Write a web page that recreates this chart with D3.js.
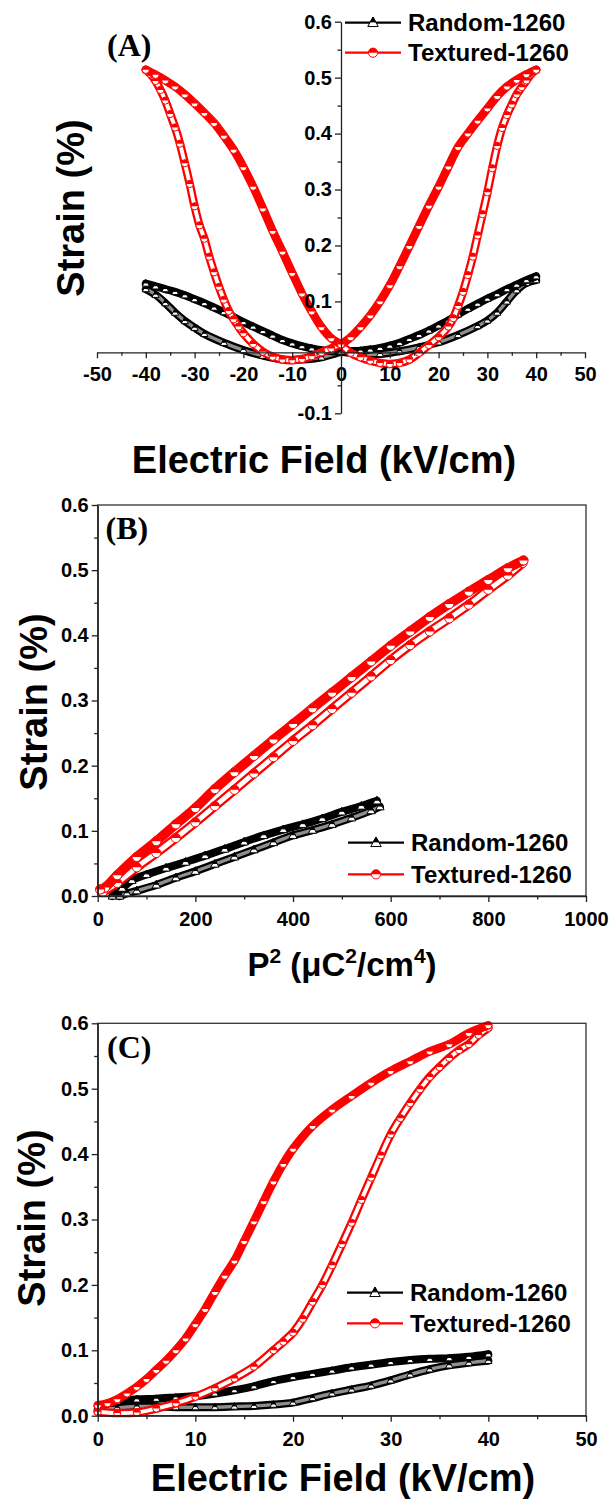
<!DOCTYPE html>
<html>
<head>
<meta charset="utf-8">
<script src="https://cdn.jsdelivr.net/npm/d3@7"></script>
<style>
  body { margin: 0; background: #fff; }
  text { font-family: "Liberation Sans", Arial, sans-serif; font-weight: bold; fill: #000; }
  .plab { font-family: "Liberation Serif", "Times New Roman", serif; }
</style>
</head>
<body>
<div id="chart"></div>
<script>
// tick values
var fieldTicksA = [-50, -40, -30, -20, -10, 0, 10, 20, 30, 40, 50];
var fieldMinorA = [-45, -35, -25, -15, -5, 5, 15, 25, 35, 45];
var strainTicksA = [-0.1, 0.1, 0.2, 0.3, 0.4, 0.5, 0.6];
var strainMinorA = [-0.05, 0.05, 0.15, 0.25, 0.35, 0.45, 0.55];
var strainTicks = [0, 0.1, 0.2, 0.3, 0.4, 0.5, 0.6];
var strainMinor = [0.05, 0.15, 0.25, 0.35, 0.45, 0.55];
var p2Ticks = [0, 200, 400, 600, 800, 1000];
var p2Minor = [100, 300, 500, 700, 900];
var fieldTicksC = [0, 10, 20, 30, 40, 50];
var fieldMinorC = [5, 15, 25, 35, 45];
var seriesNames = ["Random-1260", "Textured-1260"];

// (A) bipolar strain, branches in measuring order: [E kV/cm, strain %]
var randomA = [
  [[0,0.010],[4,0.006],[8,0.006],[12,0.011],[16,0.018],[20,0.027],[24,0.040],[28,0.056],[30,0.066],[32,0.080],[34,0.100],[36,0.120],[38,0.133],[40,0.138]],
  [[40,0.145],[38,0.138],[36,0.130],[34,0.122],[32,0.113],[30,0.105],[28,0.096],[26,0.087],[24,0.077],[22,0.066],[20,0.057],[18,0.048],[16,0.040],[14,0.033],[12,0.026],[10,0.021],[8,0.017],[6,0.014],[4,0.012],[2,0.011],[0,0.010]],
  [[0,0.010],[-4,0.000],[-8,-0.004],[-12,-0.004],[-16,0.003],[-20,0.013],[-24,0.026],[-28,0.042],[-30,0.053],[-32,0.065],[-34,0.080],[-36,0.097],[-38,0.112],[-40,0.122]],
  [[-40,0.132],[-38,0.127],[-36,0.122],[-34,0.117],[-32,0.111],[-30,0.104],[-28,0.097],[-26,0.089],[-24,0.081],[-22,0.072],[-20,0.063],[-18,0.055],[-16,0.047],[-14,0.039],[-12,0.031],[-10,0.025],[-8,0.020],[-6,0.016],[-4,0.013],[-2,0.011],[0,0.010]]
];
var texturedA = [
  [[0,0.023],[2,0.008],[4,0.000],[6,-0.006],[8,-0.010],[10,-0.012],[12,-0.010],[14,-0.004],[16,0.008],[18,0.022],[20,0.036],[22,0.055],[23,0.070],[24,0.092],[25,0.117],[26,0.147],[27,0.180],[28,0.218],[29,0.256],[30,0.295],[31,0.338],[32,0.378],[33,0.410],[34,0.433],[35,0.452],[36,0.470],[37,0.483],[38,0.495],[39,0.507],[40,0.514]],
  [[40,0.514],[38,0.506],[36,0.496],[34,0.484],[32,0.467],[30,0.445],[28,0.423],[26,0.400],[24,0.376],[22,0.341],[20,0.305],[18,0.271],[16,0.235],[14,0.199],[12,0.163],[10,0.129],[8,0.100],[6,0.075],[4,0.054],[2,0.036],[0,0.023]],
  [[0,0.023],[-2,0.016],[-4,0.009],[-6,0.002],[-8,-0.003],[-10,-0.005],[-12,-0.004],[-14,0.001],[-16,0.010],[-18,0.024],[-20,0.043],[-21,0.055],[-22,0.068],[-23,0.083],[-24,0.103],[-25,0.126],[-26,0.152],[-27,0.180],[-28,0.212],[-29,0.236],[-30,0.270],[-31,0.310],[-32,0.347],[-33,0.382],[-34,0.411],[-35,0.435],[-36,0.459],[-37,0.478],[-38,0.494],[-39,0.506],[-40,0.514]],
  [[-40,0.514],[-38,0.505],[-36,0.495],[-34,0.484],[-32,0.470],[-30,0.454],[-28,0.437],[-26,0.419],[-24,0.396],[-22,0.371],[-20,0.340],[-18,0.305],[-16,0.266],[-14,0.226],[-12,0.189],[-10,0.151],[-8,0.114],[-6,0.082],[-4,0.054],[-2,0.034],[0,0.023]]
];

// (B) strain vs P^2 (uC^2/cm^4)
var randomB = [
  [[45,0.000],[60,0.004],[80,0.008],[120,0.017],[160,0.028],[200,0.038],[240,0.049],[280,0.060],[320,0.071],[360,0.082],[400,0.093],[440,0.101],[480,0.110],[520,0.120],[560,0.131],[578,0.137]],
  [[572,0.146],[540,0.138],[500,0.129],[460,0.119],[420,0.110],[380,0.102],[340,0.093],[300,0.083],[260,0.072],[220,0.062],[180,0.052],[140,0.043],[100,0.033],[70,0.024],[50,0.012],[30,0.000]]
];
var texturedB = [
  [[10,0.006],[40,0.020],[80,0.044],[120,0.066],[160,0.089],[200,0.113],[240,0.138],[280,0.163],[320,0.188],[360,0.213],[400,0.238],[440,0.262],[480,0.287],[520,0.312],[560,0.337],[600,0.362],[640,0.385],[680,0.406],[720,0.426],[760,0.447],[800,0.470],[840,0.492],[870,0.511]],
  [[872,0.515],[840,0.503],[800,0.485],[760,0.467],[720,0.448],[680,0.428],[640,0.406],[600,0.384],[560,0.360],[520,0.336],[480,0.312],[440,0.288],[400,0.264],[360,0.240],[320,0.215],[280,0.190],[240,0.164],[200,0.135],[160,0.110],[120,0.084],[80,0.060],[40,0.032],[15,0.013],[5,0.010]]
];

// (C) unipolar strain
var randomC = [
  [[0,0.008],[2,0.012],[4,0.014],[6,0.014],[8,0.013],[10,0.013],[12,0.013],[14,0.014],[16,0.015],[18,0.017],[20,0.020],[22,0.027],[24,0.034],[26,0.040],[28,0.046],[30,0.054],[32,0.063],[34,0.071],[36,0.077],[38,0.081],[40,0.084]],
  [[40,0.094],[38,0.090],[36,0.088],[34,0.087],[32,0.085],[30,0.082],[28,0.078],[26,0.074],[24,0.069],[22,0.064],[20,0.059],[18,0.053],[16,0.045],[14,0.039],[12,0.034],[10,0.030],[8,0.028],[6,0.026],[4,0.025],[2,0.022],[0,0.014]]
];
var texturedC = [
  [[0,0.006],[2,0.004],[4,0.005],[6,0.011],[8,0.019],[10,0.029],[12,0.042],[14,0.057],[16,0.075],[18,0.100],[19,0.113],[20,0.127],[21,0.148],[22,0.174],[23,0.200],[24,0.230],[25,0.262],[26,0.295],[27,0.330],[28,0.364],[29,0.398],[30,0.430],[31,0.455],[32,0.478],[33,0.499],[34,0.518],[35,0.533],[36,0.547],[37,0.559],[38,0.568],[39,0.582],[40,0.593]],
  [[40,0.597],[38,0.585],[36,0.568],[34,0.557],[32,0.542],[30,0.527],[28,0.509],[26,0.489],[24,0.468],[22,0.443],[20,0.408],[19,0.385],[18,0.358],[17,0.328],[16,0.297],[15,0.267],[14,0.237],[13,0.214],[12,0.189],[11,0.163],[10,0.140],[9,0.118],[8,0.100],[7,0.084],[6,0.070],[5,0.056],[4,0.044],[3,0.034],[2,0.025],[1,0.019],[0,0.016]]
];

var w = 610, h = 1501;

function drawMarker(sel, kind, r, color) {
  if (kind == "circle") {
    sel.append("circle").attr("r", r).attr("fill", "#fff")
      .attr("stroke", color).attr("stroke-width", 1);
    sel.append("path")
      .attr("d", "M" + (-r) + ",0A" + r + "," + r + " 0 0 1 " + r + ",0Z")
      .attr("fill", color);
  } else {
    var hw = r * 0.95;
    sel.append("path")
      .attr("d", "M0," + (-r) + "L" + hw + "," + (r * 0.7) + "L" + (-hw) + "," + (r * 0.7) + "Z")
      .attr("fill", "#fff").attr("stroke", color).attr("stroke-width", 1);
    var cut = -r + 0.85 * r;
    var cw = hw * 0.85 / 1.7;
    sel.append("path")
      .attr("d", "M0," + (-r) + "L" + cw + "," + cut + "L" + (-cw) + "," + cut + "Z")
      .attr("fill", color).attr("stroke", color).attr("stroke-width", 1);
  }
}

function drawSeries(g, x, y, branches, color, kind, r, bandW, innerColor) {
  var line = d3.line()
    .x(function(d) { return x(d[0]); })
    .y(function(d) { return y(d[1]); })
    .curve(d3.curveCatmullRom);
  branches.forEach(function(b) {
    var rising = b[b.length - 1][1] > b[0][1];
    g.append("path").datum(b)
      .attr("fill", "none").attr("stroke", color)
      .attr("stroke-width", bandW).attr("stroke-linejoin", "round")
      .attr("stroke-linecap", "round").attr("d", line);
    if (rising) {
      g.append("path").datum(b)
        .attr("fill", "none").attr("stroke", innerColor)
        .attr("stroke-width", bandW - 4.6).attr("stroke-linecap", "round")
        .attr("d", line);
    }
    g.selectAll(null).data(b).enter().append("g")
      .attr("transform", function(d) { return "translate(" + x(d[0]) + "," + y(d[1]) + ")"; })
      .each(function() { drawMarker(d3.select(this), kind, r, color); });
  });
}

function styleAxis(ax, size) {
  ax.attr("font-size", size).attr("font-family", null);
  ax.selectAll("line").attr("stroke", "#222").attr("stroke-width", 1.3);
  ax.selectAll(".domain").attr("stroke", "#222").attr("stroke-width", 1.3);
}

function legend(svg, x0, y0, gap) {
  var items = [
    { name: seriesNames[0], color: "#000", kind: "tri" },
    { name: seriesNames[1], color: "#ff0000", kind: "circle" }
  ];
  items.forEach(function(it, i) {
    var yy = y0 + i * gap;
    svg.append("line").attr("x1", x0).attr("x2", x0 + 56)
      .attr("y1", yy).attr("y2", yy)
      .attr("stroke", it.color).attr("stroke-width", 2.2);
    var m = svg.append("g").attr("transform", "translate(" + (x0 + 28) + "," + yy + ")");
    drawMarker(m, it.kind, it.kind == "tri" ? 5.5 : 4.6, it.color);
    svg.append("text").attr("x", x0 + 63).attr("y", yy + 8.6)
      .attr("font-size", 24).text(it.name);
  });
}

function strainTitle(svg, bx, cy) {
  svg.append("text")
    .attr("transform", "translate(" + bx + "," + cy + ") rotate(-90)")
    .attr("text-anchor", "middle").attr("font-size", 38)
    .text("Strain (%)");
}

function fmt1(d) { return d.toFixed(1); }

function init() {
  var svg = d3.select("#chart").append("svg")
    .attr("width", w).attr("height", h);

  // ---------- (A) ----------
  var xA = d3.scaleLinear().domain([-50, 50]).range([97, 585]);
  var yA = d3.scaleLinear().domain([-0.1, 0.6]).range([413.3, 21.7]);
  var axisYpos = yA(0.009);

  var gA = svg.append("g");
  drawSeries(gA, xA, yA, randomA, "#000", "tri", 3.8, 8, "#8e8e8e");
  drawSeries(gA, xA, yA, texturedA, "#ff0000", "circle", 3.6, 8.5, "#fff");

  var axA = svg.append("g").attr("transform", "translate(0," + axisYpos + ")")
    .call(d3.axisBottom(xA).tickValues(fieldTicksA).tickSize(6).tickSizeOuter(0)
      .tickPadding(8).tickFormat(function(d) { return String(d); }));
  styleAxis(axA, 20);
  var axAm = svg.append("g").attr("transform", "translate(0," + axisYpos + ")")
    .call(d3.axisBottom(xA).tickValues(fieldMinorA).tickSize(3.5).tickFormat(""));
  styleAxis(axAm, 20);
  axAm.select(".domain").remove();

  var ayA = svg.append("g").attr("transform", "translate(" + xA(0) + ",0)")
    .call(d3.axisLeft(yA).tickValues(strainTicksA).tickSize(6).tickSizeOuter(0)
      .tickPadding(3).tickFormat(fmt1));
  styleAxis(ayA, 20);
  var ayAm = svg.append("g").attr("transform", "translate(" + xA(0) + ",0)")
    .call(d3.axisLeft(yA).tickValues(strainMinorA).tickSize(3.5).tickFormat(""));
  styleAxis(ayAm, 20);
  ayAm.select(".domain").remove();

  svg.append("text").attr("x", 324).attr("y", 473).attr("text-anchor", "middle")
    .attr("font-size", 38).text("Electric Field (kV/cm)");
  strainTitle(svg, 84, 208);
  svg.append("text").attr("class", "plab").attr("x", 107).attr("y", 56)
    .attr("font-size", 32).text("(A)");
  legend(svg, 345, 22.7, 30);

  // ---------- (B) ----------
  var xB = d3.scaleLinear().domain([0, 1000]).range([97.7, 586]);
  var yB = d3.scaleLinear().domain([0, 0.6]).range([896, 505]);
  var gB = svg.append("g");
  drawSeries(gB, xB, yB, randomB, "#000", "tri", 4.4, 8, "#8e8e8e");
  drawSeries(gB, xB, yB, texturedB, "#ff0000", "circle", 4.6, 9.5, "#fff");

  svg.append("rect").attr("x", 97.7).attr("y", 505).attr("width", 586 - 97.7)
    .attr("height", 896 - 505).attr("fill", "none").attr("stroke", "#333").attr("stroke-width", 1.3);
  var axB = svg.append("g").attr("transform", "translate(0,896)")
    .call(d3.axisBottom(xB).tickValues(p2Ticks).tickSize(6).tickSizeOuter(0).tickPadding(10)
      .tickFormat(function(d) { return String(d); }));
  styleAxis(axB, 20);
  var axBm = svg.append("g").attr("transform", "translate(0,896)")
    .call(d3.axisBottom(xB).tickValues(p2Minor).tickSize(3.5).tickFormat(""));
  styleAxis(axBm, 20);
  axBm.select(".domain").remove();
  var ayB = svg.append("g").attr("transform", "translate(97.7,0)")
    .call(d3.axisLeft(yB).tickValues(strainTicks).tickSize(6).tickSizeOuter(0).tickPadding(3).tickFormat(fmt1));
  styleAxis(ayB, 20);
  var ayBm = svg.append("g").attr("transform", "translate(97.7,0)")
    .call(d3.axisLeft(yB).tickValues(strainMinor).tickSize(3.5).tickFormat(""));
  styleAxis(ayBm, 20);
  ayBm.select(".domain").remove();

  var tB = svg.append("text").attr("x", 342).attr("y", 976).attr("text-anchor", "middle")
    .attr("font-size", 33);
  tB.append("tspan").text("P");
  tB.append("tspan").attr("font-size", 21).attr("dy", -13).text("2");
  tB.append("tspan").attr("dy", 13).text(" (\u03BCC");
  tB.append("tspan").attr("font-size", 21).attr("dy", -13).text("2");
  tB.append("tspan").attr("dy", 13).text("/cm");
  tB.append("tspan").attr("font-size", 21).attr("dy", -13).text("4");
  tB.append("tspan").attr("dy", 13).text(")");
  strainTitle(svg, 47, 702);
  svg.append("text").attr("class", "plab").attr("x", 105.6).attr("y", 539)
    .attr("font-size", 32).text("(B)");
  legend(svg, 348, 842.7, 31.6);

  // ---------- (C) ----------
  var xC = d3.scaleLinear().domain([0, 50]).range([97.7, 586]);
  var yC = d3.scaleLinear().domain([0, 0.6]).range([1415.7, 1023.3]);
  var gC = svg.append("g");
  drawSeries(gC, xC, yC, randomC, "#000", "tri", 3.8, 8, "#8e8e8e");
  drawSeries(gC, xC, yC, texturedC, "#ff0000", "circle", 3.6, 8.5, "#fff");

  svg.append("rect").attr("x", 97.7).attr("y", 1023.3).attr("width", 586 - 97.7)
    .attr("height", 1415.7 - 1023.3).attr("fill", "none").attr("stroke", "#333").attr("stroke-width", 1.3);
  var axC = svg.append("g").attr("transform", "translate(0,1415.7)")
    .call(d3.axisBottom(xC).tickValues(fieldTicksC).tickSize(6).tickSizeOuter(0).tickPadding(10)
      .tickFormat(function(d) { return String(d); }));
  styleAxis(axC, 20);
  var axCm = svg.append("g").attr("transform", "translate(0,1415.7)")
    .call(d3.axisBottom(xC).tickValues(fieldMinorC).tickSize(3.5).tickFormat(""));
  styleAxis(axCm, 20);
  axCm.select(".domain").remove();
  var ayC = svg.append("g").attr("transform", "translate(97.7,0)")
    .call(d3.axisLeft(yC).tickValues(strainTicks).tickSize(6).tickSizeOuter(0).tickPadding(3).tickFormat(fmt1));
  styleAxis(ayC, 20);
  var ayCm = svg.append("g").attr("transform", "translate(97.7,0)")
    .call(d3.axisLeft(yC).tickValues(strainMinor).tickSize(3.5).tickFormat(""));
  styleAxis(ayCm, 20);
  ayCm.select(".domain").remove();

  svg.append("text").attr("x", 343).attr("y", 1491).attr("text-anchor", "middle")
    .attr("font-size", 38).text("Electric Field (kV/cm)");
  strainTitle(svg, 45, 1218);
  svg.append("text").attr("class", "plab").attr("x", 107).attr("y", 1058)
    .attr("font-size", 32).text("(C)");
  legend(svg, 347, 1292.7, 30.6);
}

window.onload = init;
</script>
</body>
</html>
